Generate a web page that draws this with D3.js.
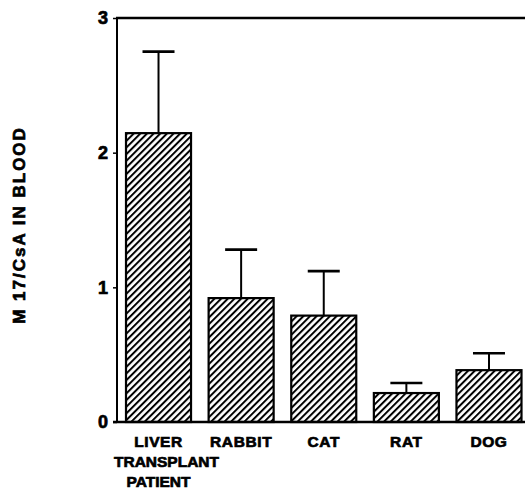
<!DOCTYPE html>
<html>
<head>
<meta charset="utf-8">
<script src="https://cdn.jsdelivr.net/npm/d3@7"></script>
<style>
  html, body { margin: 0; padding: 0; background: #fff; }
  svg { display: block; }
  text { font-family: "Liberation Sans", Arial, Helvetica, sans-serif; font-weight: bold; fill: #000; stroke: #000; stroke-width: 0.7px; }
</style>
</head>
<body>
<svg id="chart" width="525" height="489"></svg>
<script>
const categories = ["LIVER", "RABBIT", "CAT", "RAT", "DOG"];
const categoryLabelLines = [["LIVER", "TRANSPLANT", "PATIENT"], ["RABBIT"], ["CAT"], ["RAT"], ["DOG"]];
const meanValues = [2.145, 0.92, 0.79, 0.215, 0.385];
const errorUpper = [2.75, 1.28, 1.12, 0.29, 0.51];
const yTicks = [0, 1, 2, 3];
const yTitle = "M 17/CsA IN BLOOD";

const svg = d3.select("#chart");
const x0 = 117, yBase = 422, yTop = 18;

const x = d3.scaleBand().domain(categories).range([x0, 530.5])
  .paddingInner(0.213).paddingOuter(0.109);
const y = d3.scaleLinear().domain([0, 3]).range([yBase, yTop]);

// hatch pattern
const defs = svg.append("defs");
const pat = defs.append("pattern").attr("id", "hatch")
  .attr("patternUnits", "userSpaceOnUse")
  .attr("width", 4.7).attr("height", 10)
  .attr("patternTransform", "rotate(45)");
pat.append("rect").attr("width", 4.7).attr("height", 10).attr("fill", "#fff");
pat.append("line").attr("x1", 1).attr("y1", 0).attr("x2", 1).attr("y2", 10)
  .attr("stroke", "#000").attr("stroke-width", 2);

// error bars (behind bars)
const eb = svg.append("g");
categories.forEach((c, i) => {
  const cx = x(c) + x.bandwidth() / 2;
  eb.append("line").attr("x1", cx).attr("x2", cx)
    .attr("y1", y(meanValues[i])).attr("y2", y(errorUpper[i]))
    .attr("stroke", "#000").attr("stroke-width", 2);
  eb.append("line").attr("x1", cx - 16).attr("x2", cx + 16)
    .attr("y1", y(errorUpper[i])).attr("y2", y(errorUpper[i]))
    .attr("stroke", "#000").attr("stroke-width", 2.6);
});

// bars
svg.append("g").selectAll("rect").data(categories).join("rect")
  .attr("x", d => x(d))
  .attr("y", (d, i) => y(meanValues[i]))
  .attr("width", x.bandwidth())
  .attr("height", (d, i) => yBase - y(meanValues[i]))
  .attr("fill", "url(#hatch)")
  .attr("stroke", "#000").attr("stroke-width", 2.2);

// y axis
const yAxis = d3.axisLeft(y).tickValues(yTicks).tickSize(4).tickPadding(5).tickFormat(d3.format("d"));
const ga = svg.append("g").attr("transform", `translate(${x0},0)`).call(yAxis);
ga.select(".domain").remove();
ga.selectAll(".tick line").attr("stroke", "#000").attr("stroke-width", 1.5);
ga.selectAll(".tick text").style("font-size", "18px").style("font-weight", "bold")
  .style("font-family", "'Liberation Sans', Arial, sans-serif").attr("fill", "#000")
  .attr("stroke", "#000").attr("stroke-width", 0.9);
svg.append("line").attr("x1", x0).attr("x2", x0).attr("y1", yTop - 1).attr("y2", yBase + 1)
  .attr("stroke", "#000").attr("stroke-width", 2);

// top line and baseline
svg.append("line").attr("x1", x0 - 1).attr("x2", 525).attr("y1", yTop).attr("y2", yTop)
  .attr("stroke", "#000").attr("stroke-width", 2.6);
svg.append("line").attr("x1", x0 - 4).attr("x2", 525).attr("y1", yBase).attr("y2", yBase)
  .attr("stroke", "#000").attr("stroke-width", 2.6);

// x labels
categories.forEach((c, i) => {
  const cx = x(c) + x.bandwidth() / 2;
  categoryLabelLines[i].forEach((t, j) => {
    svg.append("text").attr("x", cx + (j === 1 ? 8 : 0)).attr("y", 447 + j * 20)
      .attr("text-anchor", "middle").style("font-size", "15.5px")
      .style("letter-spacing", j === 0 ? "0.6px" : "0px").text(t);
  });
});

// y title
svg.append("text").attr("transform", "translate(25,225) rotate(-90)")
  .attr("text-anchor", "middle").style("font-size", "17px")
  .style("letter-spacing", "2px").text(yTitle);
</script>
</body>
</html>
